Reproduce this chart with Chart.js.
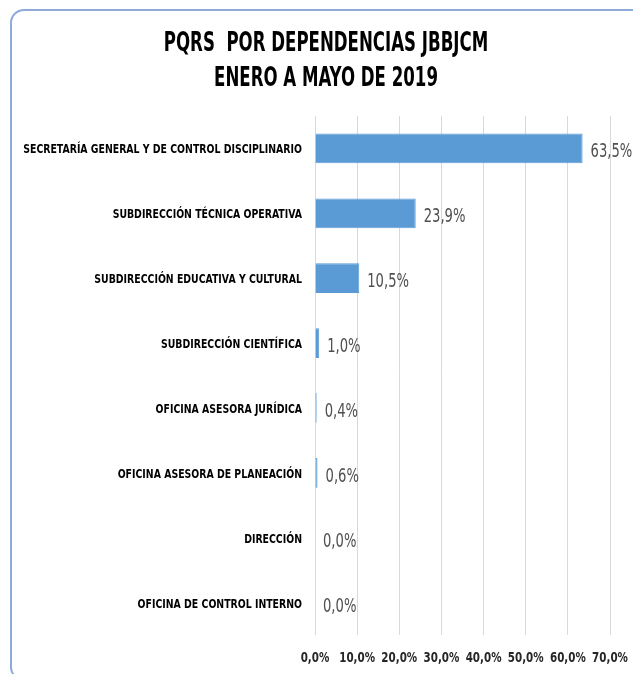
<!DOCTYPE html>
<html>
<head>
<meta charset="utf-8">
<script src="https://cdn.jsdelivr.net/npm/chart.js@4/dist/chart.umd.min.js"></script>
<style>
    html, body { margin: 0; padding: 0; background: #ffffff; }
    #wrap { position: relative; width: 633px; height: 674px; overflow: hidden; }
    #frame {
        position: absolute; left: 10px; top: 9px; width: 660px; height: 672px;
        border: 2.5px solid #8eaadb; border-radius: 14px; box-sizing: border-box;
        pointer-events: none;
    }
    canvas { position: absolute; left: 0; top: 0; }
</style>
</head>
<body>
<div id="wrap">
    <canvas id="chart" width="633" height="674"></canvas>
    <div id="frame"></div>
</div>
<script>
// Chart data
const categories = [
    'SECRETARÍA GENERAL Y DE CONTROL DISCIPLINARIO',
    'SUBDIRECCIÓN TÉCNICA OPERATIVA',
    'SUBDIRECCIÓN EDUCATIVA Y CULTURAL',
    'SUBDIRECCIÓN CIENTÍFICA',
    'OFICINA ASESORA JURÍDICA',
    'OFICINA ASESORA DE PLANEACIÓN',
    'DIRECCIÓN',
    'OFICINA DE CONTROL INTERNO',
];
const percentages = [63.5, 23.9, 10.5, 1.0, 0.4, 0.6, 0.0, 0.0];
const xTickValues = [0, 10, 20, 30, 40, 50, 60, 70];
const titleLines = ['PQRS  POR DEPENDENCIAS JBBJCM', 'ENERO A MAYO DE 2019'];

// Only condensed face available offline; squeeze it further to look like Calibri
const FONT = '"DejaVu Sans Condensed", "Liberation Sans Narrow", sans-serif';

function fmtPct(v) {
    return v.toFixed(1).replace('.', ',') + '%';
}

/**
 * Draw text squeezed horizontally.
 */
function narrowText(ctx, text, x, y, align, squeeze) {
    ctx.save();
    ctx.translate(x, y);
    ctx.scale(squeeze, 1);
    ctx.textAlign = align;
    ctx.fillText(text, 0, 0);
    ctx.restore();
}

// Title, category labels, value labels and x tick labels
const textLayer = {
    id: 'textLayer',
    afterDatasetsDraw(chart) {
        const ctx = chart.ctx;
        const xScale = chart.scales.x;
        const yScale = chart.scales.y;
        const meta = chart.getDatasetMeta(0);

        ctx.save();
        ctx.textBaseline = 'alphabetic';

        // title
        ctx.fillStyle = '#000000';
        ctx.font = 'bold 26px ' + FONT;
        narrowText(ctx, titleLines[0], 326, 51, 'center', 0.71);
        narrowText(ctx, titleLines[1], 326, 86, 'center', 0.71);

        // category labels
        ctx.font = 'bold 13px ' + FONT;
        categories.forEach((c, i) => {
            const y = yScale.getPixelForValue(i);
            narrowText(ctx, c, chart.chartArea.left - 13, y + 5, 'right', 0.8);
        });

        // x tick labels
        ctx.fillStyle = '#262626';
        ctx.font = 'bold 14px ' + FONT;
        xTickValues.forEach(v => {
            narrowText(ctx, fmtPct(v), xScale.getPixelForValue(v), chart.chartArea.bottom + 27, 'center', 0.82);
        });

        // value labels
        ctx.fillStyle = '#505050';
        ctx.font = '20px ' + FONT;
        meta.data.forEach((bar, i) => {
            narrowText(ctx, fmtPct(percentages[i]), bar.x + 8, bar.y + 9, 'left', 0.73);
        });
        ctx.restore();
    },
};

new Chart(document.getElementById('chart'), {
    type: 'bar',
    data: {
        labels: categories,
        datasets: [{
            data: percentages,
            backgroundColor: '#5b9bd5',
            borderColor: '#5b9bd5',
            borderWidth: 1,
            categoryPercentage: 1,
            barPercentage: 0.46,
        }],
    },
    options: {
        indexAxis: 'y',
        responsive: false,
        animation: false,
        layout: {
            padding: { left: 0, right: 23, top: 116, bottom: 0 },
        },
        plugins: {
            legend: { display: false },
            tooltip: { enabled: false },
            title: { display: false },
        },
        scales: {
            x: {
                min: 0,
                max: 70,
                afterBuildTicks: (scale) => {
                    scale.ticks = xTickValues.map(v => ({ value: v }));
                },
                afterFit: (scale) => {
                    scale.height = 39;
                },
                grid: {
                    color: '#d9d9d9',
                    drawTicks: false,
                },
                border: { display: false },
                ticks: { display: false },
            },
            y: {
                afterFit: (scale) => {
                    scale.width = 315;
                },
                grid: { display: false },
                border: { display: false },
                ticks: { display: false },
            },
        },
    },
    plugins: [textLayer],
});
</script>
</body>
</html>
